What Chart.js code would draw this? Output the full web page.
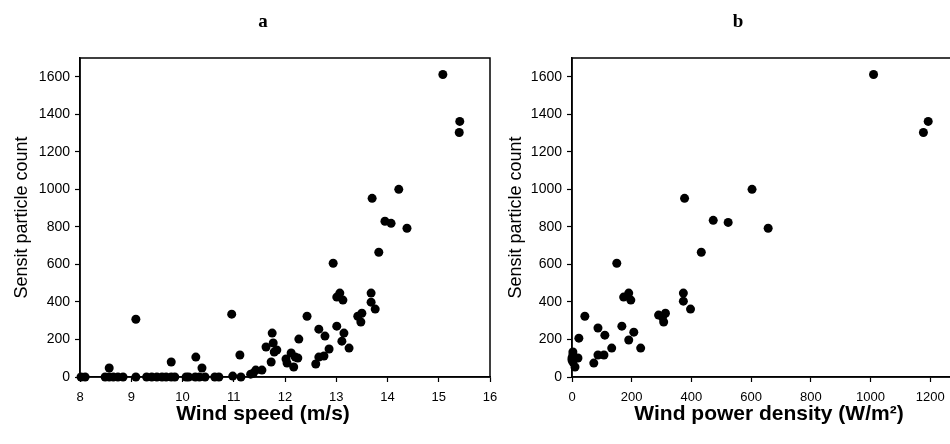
<!DOCTYPE html>
<html>
<head>
<meta charset="utf-8">
<script src="https://cdn.jsdelivr.net/npm/chart.js@4.4.0/dist/chart.umd.min.js"></script>
<style>
    html, body { margin: 0; padding: 0; background: #fff; overflow: hidden; width: 950px; height: 444px; }
    canvas { position: absolute; top: 0; }
    #chartA { left: 0; }
    #chartB { left: 476px; }
</style>
</head>
<body>
<canvas id="chartA" width="526" height="444"></canvas>
<canvas id="chartB" width="524" height="444"></canvas>
<script>
// Panel a: wind speed (m/s) vs Sensit particle count
const windSpeed = [8.02, 8.1, 8.49, 8.57, 8.57, 8.65, 8.74, 8.84, 9.09, 9.09,
    9.3, 9.4, 9.5, 9.6, 9.68, 9.78, 9.78, 9.85, 10.07, 10.12,
    10.25, 10.26, 10.33, 10.38, 10.44, 10.63, 10.71, 10.96, 10.98, 11.14,
    11.12, 11.33, 11.38, 11.43, 11.55, 11.63, 11.73, 11.75, 11.77, 11.79,
    11.84, 12.02, 12.04, 12.12, 12.17, 12.2, 12.25, 12.27, 12.43, 12.6,
    12.66, 12.66, 12.76, 12.78, 12.86, 12.94, 13.01, 13.01, 13.07, 13.11,
    13.13, 13.15, 13.25, 13.42, 13.48, 13.5, 13.68, 13.68, 13.7, 13.76,
    13.83, 13.95, 14.07, 14.22, 14.38, 15.08, 15.41, 15.4];
const countA = [0, 0, 0, 0, 48, 0, 0, 0, 0, 308,
    0, 0, 0, 0, 0, 0, 80, 0, 0, 0,
    0, 106, 0, 48, 0, 0, 0, 335, 5, 0,
    117, 15, 20, 37, 37, 160, 80, 234, 181, 133,
    144, 96, 74, 128, 53, 106, 101, 202, 324, 69,
    106, 255, 112, 218, 149, 606, 271, 426, 447, 191,
    410, 234, 154, 324, 293, 340, 447, 399, 952, 362,
    665, 830, 819, 1000, 793, 1612, 1362, 1303];

// Panel b: wind power density (W/m2) vs Sensit particle count
const powerDensity = [0, 0, 3, 3, 3, 10, 20, 23, 43, 73,
    87, 87, 107, 110, 133, 150, 167, 173, 190, 190,
    197, 207, 230, 290, 303, 307, 313, 373, 373, 377,
    397, 433, 473, 523, 603, 657, 1010, 1177, 1193];
const countB = [101, 90, 80, 117, 133, 53, 101, 207, 324, 74,
    261, 117, 117, 223, 154, 606, 271, 426, 447, 197,
    410, 239, 154, 330, 319, 293, 340, 447, 404, 952,
    362, 665, 835, 824, 1000, 793, 1612, 1303, 1362];

// Tick labels
const speedTicks = [8, 9, 10, 11, 12, 13, 14, 15, 16];
const densityTicks = [0, 200, 400, 600, 800, 1000, 1200];
const countTicks = [0, 200, 400, 600, 800, 1000, 1200, 1400, 1600];

const sansFont = "'Liberation Sans', Arial, sans-serif";
const serifFont = "'Liberation Serif', 'Times New Roman', serif";

// box round the plot area
const framePlugin = {
    id: 'frame',
    beforeDatasetsDraw(chart) {
        const { ctx, chartArea: a } = chart;
        ctx.save();
        ctx.strokeStyle = '#000';
        ctx.lineWidth = 1.5;
        ctx.strokeRect(a.left, a.top, a.right - a.left, a.bottom - a.top);
        ctx.restore();
    }
};

// panel letter and x axis caption, placed where the original figure has them
const captionPlugin = {
    id: 'caption',
    afterDraw(chart, args, o) {
        const ctx = chart.ctx;
        ctx.save();
        ctx.fillStyle = '#000';
        ctx.textAlign = 'center';
        ctx.textBaseline = 'middle';
        o.items.forEach(it => {
            ctx.font = it.font;
            ctx.fillText(it.text, it.x, it.y);
        });
        ctx.restore();
    }
};

function makeChart(id, xs, ys, opts) {
    const points = xs.map((x, i) => ({ x: x, y: ys[i] }));
    return new Chart(document.getElementById(id), {
        type: 'scatter',
        data: {
            datasets: [{
                data: points,
                backgroundColor: '#000',
                borderWidth: 0,
                pointRadius: 4.5,
                pointHoverRadius: 4.5,
                clip: false
            }]
        },
        options: {
            responsive: false,
            animation: false,
            layout: { padding: { left: 0, right: opts.padRight, top: 58, bottom: 0 } },
            plugins: {
                legend: { display: false },
                tooltip: { enabled: false },
                caption: {
                    items: [
                        { text: opts.letter, x: opts.letterX, y: 22, font: 'bold 19px ' + serifFont },
                        { text: opts.xTitle, x: opts.captionX, y: 414, font: 'bold 21px ' + sansFont }
                    ]
                }
            },
            scales: {
                x: {
                    type: 'linear',
                    min: opts.xMin,
                    max: opts.xMax,
                    afterBuildTicks: s => { s.ticks = opts.xTicks.map(v => ({ value: v })); },
                    afterFit: s => { s.height = 67; },
                    grid: { drawOnChartArea: false, tickLength: 5, color: '#000', tickWidth: 1.2 },
                    border: { color: '#000', width: 1.5 },
                    ticks: { color: '#000', font: { family: sansFont, size: 13 }, padding: 8, maxRotation: 0,
                        callback: v => String(v) }
                },
                y: {
                    type: 'linear',
                    min: 0,
                    max: 1700,
                    afterBuildTicks: s => { s.ticks = countTicks.map(v => ({ value: v })); },
                    afterFit: s => { s.width = opts.yWidth; },
                    grid: { drawOnChartArea: false, tickLength: 5, color: '#000', tickWidth: 1.2 },
                    border: { color: '#000', width: 1.5 },
                    ticks: { color: '#000', font: { family: sansFont, size: 14 }, padding: 5,
                        callback: v => String(v) },
                    title: {
                        display: true,
                        text: 'Sensit particle count',
                        color: '#000',
                        font: { family: sansFont, size: 18 },
                        padding: { top: opts.yTitlePad, bottom: 0 }
                    }
                }
            }
        },
        plugins: [framePlugin, captionPlugin]
    });
}

makeChart('chartA', windSpeed, countA, {
    letter: 'a', letterX: 263,
    xTitle: 'Wind speed (m/s)', captionX: 263,
    xMin: 8, xMax: 16, xTicks: speedTicks,
    yWidth: 80, yTitlePad: 11, padRight: 36
});

makeChart('chartB', powerDensity, countB, {
    letter: 'b', letterX: 738 - 476,
    xTitle: 'Wind power density (W/m\u00b2)', captionX: 769 - 476,
    xMin: 0, xMax: 1400, xTicks: densityTicks,
    yWidth: 96, yTitlePad: 29, padRight: 10
});
</script>
</body>
</html>
